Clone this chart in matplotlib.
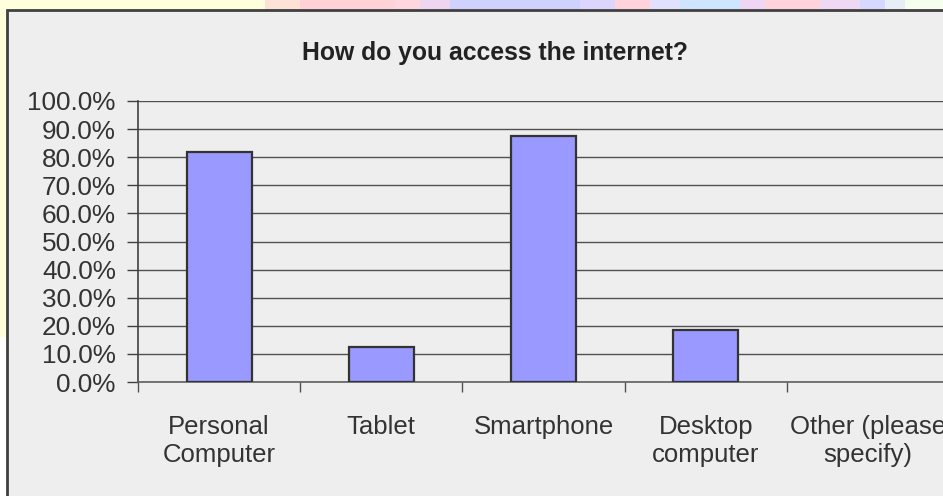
import matplotlib
matplotlib.use("Agg")
import matplotlib.pyplot as plt
from matplotlib.patches import Rectangle
from matplotlib.ticker import FuncFormatter, MultipleLocator

# Survey responses
categories = ["Personal\nComputer", "Tablet", "Smartphone", "Desktop\ncomputer", "Other (please\nspecify)"]
shares = [81.8, 12.5, 87.5, 18.5, 0.0]
title = "How do you access the internet?"

W, H = 943, 496
fig = plt.figure(figsize=(W / 100, H / 100), dpi=100)
fig.patch.set_facecolor("#FFFFFF")

def px(x0, y0, x1, y1):
    """Figure-fraction rectangle from pixel corners (top-left origin)."""
    return (x0 / W, 1 - y1 / H, (x1 - x0) / W, (y1 - y0) / H)

# Slide backdrop: pale yellow with a pastel band along the top
bx, by, bw, bh = px(0, 0, W, 337)
fig.add_artist(Rectangle((bx, by), bw, bh, transform=fig.transFigure,
                         facecolor="#FFFFDD", edgecolor="none", zorder=0))
band = [(265, 300, "#FFE2D6"), (300, 395, "#FFD2D8"), (395, 420, "#FFD6E0"),
        (420, 450, "#EED6F0"), (450, 580, "#CFD2FF"), (580, 615, "#DCD6FF"),
        (615, 650, "#FFD2DC"), (650, 680, "#E2E0FF"), (680, 740, "#CFE4FF"),
        (740, 765, "#EED6F4"), (765, 820, "#FFD2DC"), (820, 860, "#EED8F4"),
        (860, 885, "#D6D8FF"), (885, 905, "#E8EEF6"), (905, 943, "#F6FFEE")]
for x0, x1, c in band:
    rx, ry, rw, rh = px(x0, 0, x1, 10)
    fig.add_artist(Rectangle((rx, ry), rw, rh, transform=fig.transFigure,
                             facecolor=c, edgecolor="none", zorder=0.5))

# Chart frame (runs past the right and bottom edges of the canvas)
cx, cy, cw, ch = px(7, 10, W + 20, H + 20)
fig.add_artist(Rectangle((cx, cy), cw, ch, transform=fig.transFigure,
                         facecolor="#EEEEEE", edgecolor="#404040",
                         linewidth=2, zorder=1))

fig.text(495 / W, 1 - 53 / H, title, ha="center", va="center",
         fontsize=17.8, fontweight="bold", color="#222222",
         family="Liberation Sans", zorder=5)

ax = fig.add_axes([138 / W, 114 / H, (949 - 138) / W, 281 / H], zorder=3)
ax.set_facecolor("none")

x = list(range(len(categories)))
bars = ax.bar(x, shares, width=0.4, color="#9999FF", edgecolor="#333333",
              linewidth=1.6, zorder=3)
for b, v in zip(bars, shares):
    if v == 0:
        b.set_linewidth(0)

ax.set_xlim(-0.5, len(categories) - 0.5)
ax.set_ylim(0, 100)
ax.yaxis.set_major_locator(MultipleLocator(10))
ax.yaxis.set_major_formatter(FuncFormatter(lambda v, _: f"{v:.1f}%"))
ax.grid(axis="y", color="#505050", linewidth=1, zorder=1)
ax.set_axisbelow(True)

ax.set_xticks([i - 0.5 for i in range(len(categories) + 1)])
ax.set_xticklabels([])
ax.set_xticks(x, minor=True)
ax.set_xticklabels(categories, minor=True)
ax.tick_params(axis="x", which="major", length=7, width=1, color="#505050",
               direction="out")
ax.tick_params(axis="x", which="minor", length=0, pad=24, labelsize=18.5,
               labelcolor="#333333")
ax.tick_params(axis="y", length=8, width=1, color="#404040", direction="out",
               pad=8, labelsize=18.8, labelcolor="#333333")
for lab in ax.get_xticklabels(minor=True) + ax.get_yticklabels():
    lab.set_family("Liberation Sans")
for lab in ax.get_xticklabels(minor=True):
    lab.set_linespacing(1.2)

for s in ("top", "right"):
    ax.spines[s].set_visible(False)
ax.spines["left"].set_color("#404040")
ax.spines["left"].set_linewidth(1.2)
ax.spines["bottom"].set_color("#606060")
ax.spines["bottom"].set_linewidth(1.2)

fig.savefig("out.png", dpi=100)
